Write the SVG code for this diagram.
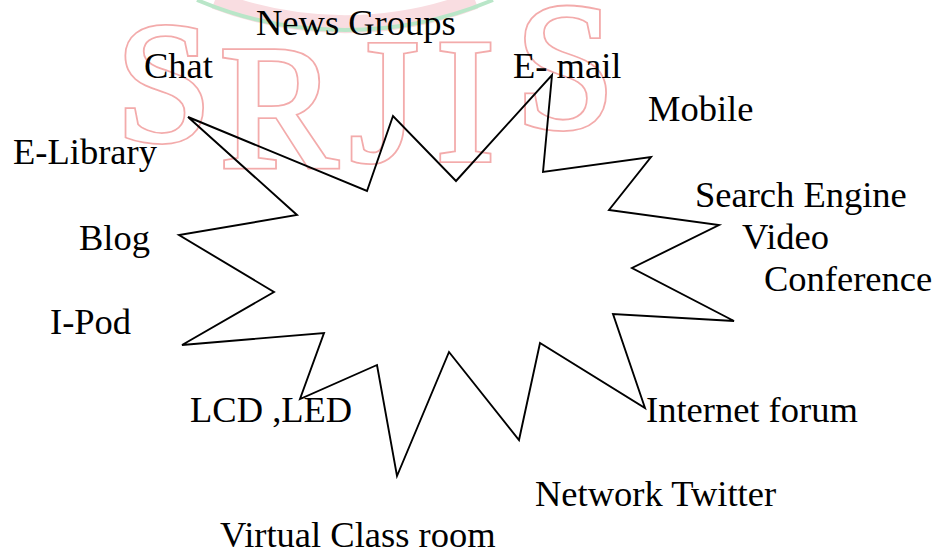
<svg xmlns="http://www.w3.org/2000/svg" xmlns:xlink="http://www.w3.org/1999/xlink" width="950" height="554" viewBox="0 0 950 554">
  <style>
    .lbl { font-family: "Liberation Serif", "Times New Roman", serif; font-size: 36.5px; fill: #000; }
    .star { fill: none; stroke: #000; stroke-width: 1.9; stroke-linejoin: miter; }
  </style>
  <defs>
    <g id="wmLetters" font-family="Liberation Serif, Times New Roman, serif">
      <text x="116" y="140" font-size="172px" font-family="Liberation Serif">S</text>
      <text x="220" y="167" font-size="176px" font-family="Liberation Serif">R</text>
      <text x="350" y="160" font-size="176px" font-family="Liberation Serif">J</text>
      <text x="436" y="160" font-size="176px" font-family="Liberation Serif">I</text>
      <text x="515" y="127" font-size="180px" font-family="Liberation Serif">S</text>
    </g>
  </defs>
  <rect width="950" height="554" fill="#ffffff"/>

  <g id="watermark">
    <path d="M 215 0 A 362 362 0 0 0 475 0" fill="none" stroke="#f9dde1" stroke-width="18"/>
    <path d="M 197 0 A 380 380 0 0 0 493 0" fill="none" stroke="#b9e6c8" stroke-width="4"/>
    <use xlink:href="#wmLetters" fill="#ffffff" stroke="#f3abab" stroke-width="6"/>
    <use xlink:href="#wmLetters" fill="#ffffff" stroke="#ffffff" stroke-width="2.4"/>
  </g>

  <g id="connectors">
    <polygon id="burst" class="star" points="188,117 367,191 393,116 456,181 552,75 543,172 651,157 609,210 719,225 632,268 734,321 613,314 645,408 540,343 519,440 449,352 397,476 377,365 300,399 324,333 182,345 274,292 179,235 297,215"/>
  </g>

  <g id="node-newsgroups"><text class="lbl" x="256" y="34.5">News Groups</text></g>
  <g id="node-chat"><text class="lbl" x="144" y="77.5">Chat</text></g>
  <g id="node-email"><text class="lbl" x="513" y="77.5">E- mail</text></g>
  <g id="node-mobile"><text class="lbl" x="648" y="120.5">Mobile</text></g>
  <g id="node-elibrary"><text class="lbl" x="13" y="163.5">E-Library</text></g>
  <g id="node-search"><text class="lbl" x="695" y="207">Search Engine</text></g>
  <g id="node-blog"><text class="lbl" x="79" y="249.5">Blog</text></g>
  <g id="node-video"><text class="lbl" x="742" y="249">Video</text></g>
  <g id="node-conference"><text class="lbl" x="764" y="290.5">Conference</text></g>
  <g id="node-ipod"><text class="lbl" x="50" y="334">I-Pod</text></g>
  <g id="node-lcd"><text class="lbl" x="190" y="421.5">LCD ,LED</text></g>
  <g id="node-forum"><text class="lbl" x="646" y="421.5">Internet forum</text></g>
  <g id="node-twitter"><text class="lbl" x="535" y="506">Network Twitter</text></g>
  <g id="node-virtual"><text class="lbl" x="220" y="546.5">Virtual Class room</text></g>
</svg>
